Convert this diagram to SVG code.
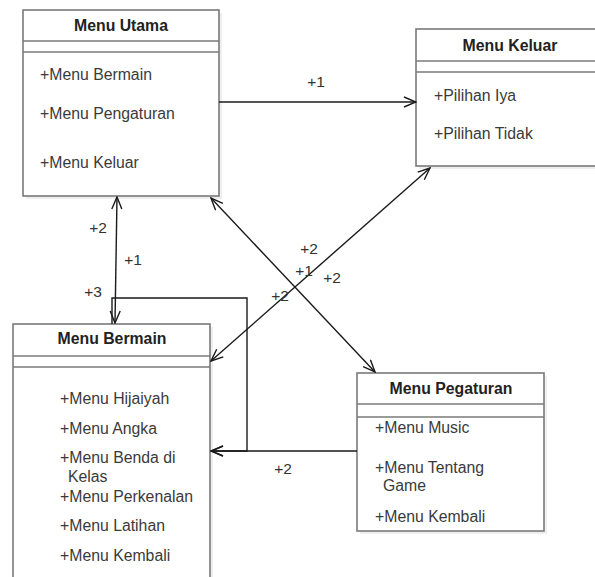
<svg xmlns="http://www.w3.org/2000/svg" width="595" height="577" viewBox="0 0 595 577">
<style>
.box{fill:#fff;stroke:#7a7a7a;stroke-width:1.6}
.sh{fill:#efefef;stroke:none}
.sep{stroke:#7a7a7a;stroke-width:1.6}
.t{font-family:"Liberation Sans",Arial,sans-serif;font-size:15.8px;font-weight:bold;fill:#222;text-anchor:middle}
.i{font-family:"Liberation Sans",Arial,sans-serif;font-size:15.8px;fill:#3a3a3a}
.l{font-family:"Liberation Sans",Arial,sans-serif;font-size:15.5px;fill:#333;text-anchor:middle}
.c{fill:none;stroke:#1a1a1a;stroke-width:1.4}
</style>
<defs>
<marker id="a" viewBox="0 0 14 12" refX="13" refY="6" markerWidth="14" markerHeight="12" markerUnits="userSpaceOnUse" orient="auto-start-reverse">
<path d="M1,1 L13,6 L1,11" fill="none" stroke="#1a1a1a" stroke-width="1.4"/>
</marker>
</defs>
<rect width="595" height="577" fill="#fff"/>
<g id="menu-utama">
<rect class="sh" x="26" y="13" width="196" height="186"/>
<rect class="box" x="23" y="10" width="196" height="186"/>
<line class="sep" x1="23" y1="41" x2="219" y2="41"/>
<line class="sep" x1="23" y1="52" x2="219" y2="52"/>
<text class="t" x="121" y="31">Menu Utama</text>
<text class="i" x="40" y="80">+Menu Bermain</text>
<text class="i" x="40" y="119">+Menu Pengaturan</text>
<text class="i" x="40" y="168">+Menu Keluar</text>
</g>
<g id="menu-keluar">
<rect class="sh" x="419" y="32" width="190" height="137"/>
<rect class="box" x="416" y="29" width="190" height="137"/>
<line class="sep" x1="416" y1="61" x2="606" y2="61"/>
<line class="sep" x1="416" y1="72" x2="606" y2="72"/>
<text class="t" x="510" y="51">Menu Keluar</text>
<text class="i" x="434" y="101">+Pilihan Iya</text>
<text class="i" x="434" y="139">+Pilihan Tidak</text>
</g>
<g id="menu-bermain">
<rect class="sh" x="16" y="327" width="197" height="270"/>
<rect class="box" x="13" y="324" width="197" height="270"/>
<line class="sep" x1="13" y1="356" x2="210" y2="356"/>
<line class="sep" x1="13" y1="367" x2="210" y2="367"/>
<text class="t" x="112" y="344">Menu Bermain</text>
<text class="i" x="60" y="404">+Menu Hijaiyah</text>
<text class="i" x="60" y="434">+Menu Angka</text>
<text class="i" x="60" y="463">+Menu Benda di</text>
<text class="i" x="68" y="482">Kelas</text>
<text class="i" x="60" y="502">+Menu Perkenalan</text>
<text class="i" x="60" y="531">+Menu Latihan</text>
<text class="i" x="60" y="561">+Menu Kembali</text>
</g>
<g id="menu-pegaturan">
<rect class="sh" x="360" y="376" width="187" height="158"/>
<rect class="box" x="357" y="373" width="187" height="158"/>
<line class="sep" x1="357" y1="404" x2="544" y2="404"/>
<line class="sep" x1="357" y1="417" x2="544" y2="417"/>
<text class="t" x="451" y="394">Menu Pegaturan</text>
<text class="i" x="375" y="433">+Menu Music</text>
<text class="i" x="375" y="473">+Menu Tentang</text>
<text class="i" x="383" y="491">Game</text>
<text class="i" x="375" y="522">+Menu Kembali</text>
</g>
<g id="connectors">
<line class="c" x1="219" y1="102" x2="416" y2="102" marker-end="url(#a)"/>
<line class="c" x1="117" y1="197" x2="115" y2="323" marker-start="url(#a)" marker-end="url(#a)"/>
<line class="c" x1="211" y1="198" x2="375" y2="372" marker-start="url(#a)" marker-end="url(#a)"/>
<line class="c" x1="430" y1="168" x2="211" y2="361" marker-start="url(#a)" marker-end="url(#a)"/>
<path class="c" d="M112,324 L112,298 L247,298 L247,451 L211,451" marker-end="url(#a)"/>
<line class="c" x1="357" y1="451" x2="211" y2="451" marker-end="url(#a)"/>
</g>
<g id="labels">
<text class="l" x="316" y="87">+1</text>
<text class="l" x="98" y="233">+2</text>
<text class="l" x="133" y="265">+1</text>
<text class="l" x="93" y="297">+3</text>
<text class="l" x="309" y="254">+2</text>
<text class="l" x="304" y="276">+1</text>
<text class="l" x="332" y="283">+2</text>
<text class="l" x="280" y="301">+2</text>
<text class="l" x="283" y="474">+2</text>
</g>
</svg>
